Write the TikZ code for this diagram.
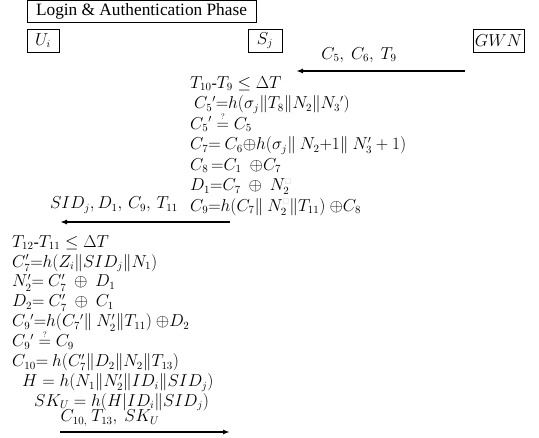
\documentclass[tikz,border=0pt]{standalone}
\usepackage{amsmath,amssymb}
\usepackage{fontspec}
\setmainfont{Liberation Serif}
\usetikzlibrary{matrix, positioning, arrows.meta}
\newcommand{\missingglyph}{{\color{gray!50}\scriptscriptstyle\square}}
\newcommand{\qeq}{\mathrel{\overset{\scriptscriptstyle ?}{=}}}
\tikzset{
  entity/.style={draw, line width=0.7pt, minimum height=23pt, inner sep=2pt},
  msg/.style={-{Latex[length=7pt,width=5pt]}, line width=1.4pt},
  lbl/.style={inner sep=1pt},
  calc/.style={matrix of nodes, anchor=north west, inner sep=0pt,
    nodes={anchor=west, inner sep=0pt, text height=12pt, text depth=4.5pt},
    row sep=4pt},
}

\begin{document}
\begin{tikzpicture}[x=1pt, y=-1pt, font=\fontsize{16}{19}\selectfont]
  \useasboundingbox (0,0) rectangle (539,438);
  % header and parties
  \node (phase) [draw, line width=0.7pt, minimum width=229pt, minimum height=22pt, inner sep=0pt,
    font=\fontsize{17.3}{20}\selectfont] at (141.5,11.5) {Login \& Authentication Phase};
  \node (user) [entity, minimum width=32pt] at (43,40.5) {$U_i$};
  \node (sensor) [entity, minimum width=34pt] at (265,40.5) {$S_j$};
  \node (gwn) [entity, minimum width=51pt] at (498.5,40.5) {$GWN$};

  % GWN -> S_j
  \coordinate (gwnout) at (465,71);
  \coordinate (sjin) at (296,71);
  \draw[msg] (gwnout) -- (sjin);
  \node (msgone) [lbl] at (359,55) {$C_5,\ C_6,\ T_9$};

  % checks at S_j
  \matrix (sjcalc) [calc] at (190,76) {
    $T_{10}$-$T_9 \leq \Delta T$ \\
    \hspace{4pt}$C_5{}'{=}h(\sigma_j\|T_8\|N_2\|N_3{}')$ \\
    $C_5{}' \qeq C_5$ \\
    $C_7{=}\ C_6{\oplus}h(\sigma_j\|\ N_2{+}1\|\ N_3'+1)$ \\
    $C_8\,{=}C_1\ \ {\oplus}C_7$ \\
    $D_1{=}C_7\ \oplus\ N_2^{\missingglyph}$ \\
    $C_9{=}h(C_7\|\ N_2^{\missingglyph}\|T_{11})\ {\oplus}C_8$ \\
  };

  % S_j -> U_i
  \coordinate (sjout) at (230,222);
  \coordinate (uiin) at (60,222);
  \draw[msg] (sjout) -- (uiin);
  \node (msgtwo) [lbl] at (114,205) {$SID_j,D_1,\,C_9,\,T_{11}$};

  % checks at U_i
  \matrix (uicalc) [calc, row sep=3.4pt] at (12,235) {
    $T_{12}$-$T_{11} \leq \Delta T$ \\
    $C_7'{=}h(Z_i\|SID_j\|N_1)$ \\
    $N_2'{=}\ C_7'\ \oplus\ D_1$ \\
    $D_2{=}\ C_7'\ \oplus\ C_1$ \\
    $C_9{}'{=}h(C_7{}'\|\ N_2'\|T_{11})\ {\oplus}D_2$ \\
    $C_9{}' \qeq C_9$ \\
    $C_{10}{=}\ h(C_7'\|D_2\|N_2\|T_{13})$ \\
    \hspace{10pt}$H = h(N_1\|N_2'\|ID_i\|SID_j)$ \\
    \hspace{22pt}$SK_U = h(H|ID_i\|SID_j)$ \\
  };

  % U_i -> S_j
  \coordinate (uiout) at (60,432);
  \coordinate (sjback) at (230,432);
  \draw[msg] (uiout) -- (sjback);
  \node (msgthree) [lbl] at (110,418) {$C_{10,}\ T_{13},\ SK_U$};
\end{tikzpicture}
\end{document}
